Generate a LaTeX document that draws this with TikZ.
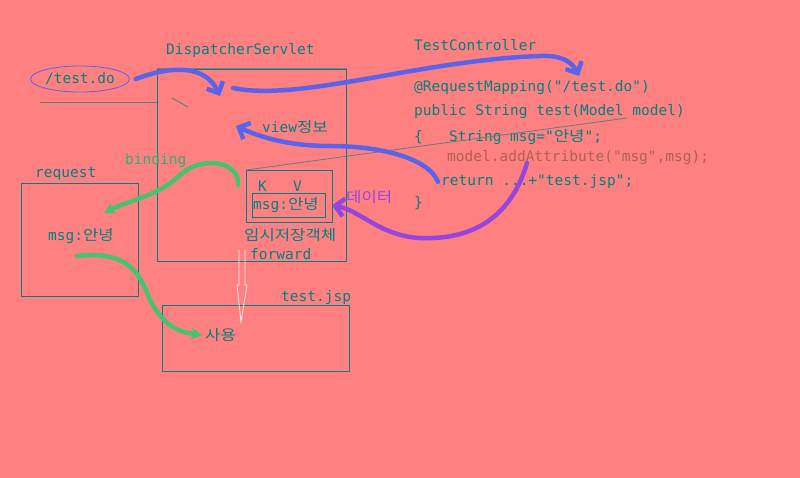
\documentclass[tikz,border=0pt]{standalone}
\usepackage{fontspec}
\newfontfamily\mono{DejaVu Sans Mono}
\newfontfamily\kr[FakeStretch=1.15]{Noto Sans CJK KR}
\usepackage{tikz}
\usetikzlibrary{arrows.meta}
\usetikzlibrary{shapes.geometric}
\usetikzlibrary{positioning}
\definecolor{salmon}{RGB}{255,128,128}
\definecolor{tealink}{RGB}{0,128,128}
\definecolor{pen}{RGB}{90,100,235}
\definecolor{marker}{RGB}{70,195,110}
\definecolor{violet}{RGB}{150,70,220}
\definecolor{rust}{RGB}{170,100,80}
\definecolor{rule}{RGB}{90,130,120}

\begin{document}
\begin{tikzpicture}[x=1pt, y=-1pt,
        txt/.style={anchor=west, inner sep=0pt, text=tealink, font=\mono\fontsize{14.5}{16}\selectfont},
        box/.style={draw=tealink, line width=1pt, inner sep=0pt, anchor=north west},
        stroke/.style={line width=4.5pt, line cap=round, line join=round},
        barb/.style={-{Straight Barb[length=9pt, width=18pt]}},
        wedge/.style={-{Stealth[length=11pt, width=12pt]}}]
            % Background
            \fill[salmon] (0,0) rectangle (800,478);
            \useasboundingbox (0,0) rectangle (800,478);
            % Boxes
            \node[box, minimum width=189pt, minimum height=192pt] (servlet) at (157,69) {};
            \draw[gray, line width=1pt] (servlet.north west) -- (servlet.north east);
            \node[box, minimum width=86pt,  minimum height=52pt]  (store)   at (246,170) {};
            \node[box, minimum width=73pt,  minimum height=24pt]  (pair)    at (252,193) {};
            \node[box, minimum width=117pt, minimum height=113pt] (request) at (21,183)  {};
            \node[box, minimum width=187pt, minimum height=66pt]  (jsp)     at (162,305) {};
            % Labels
            \node[txt] (servletname) at (166,50)  {DispatcherServlet};
            \node[txt] (ctrlname)    at (414,45)  {TestController};
            \node[txt] (reqname)     at (35,174)  {request};
            \node[txt] (jspname)     at (281,297) {test.jsp};
            \node[draw=pen, line width=0.8pt, ellipse, text=tealink, inner sep=0pt,
                  minimum width=78pt, minimum height=26pt,
                  font=\mono\fontsize{14.5}{16}\selectfont] (url) at (80,79) {/test.do};
            \draw[rule, line width=1pt] (40,103) -- (157,103);
            \draw[rule, line width=1pt] (172,98) -- (188,107);
            % Controller code
            \node[txt] (mapping) at (414,88)  {@RequestMapping("/test.do")};
            \node[txt] (method)  at (414,112) {public String test(Model model)};
            \node[txt] (msgline) at (414,137) {\{\ \ \ String msg="{\kr 안녕}";};
            \node[txt, text=rust] (attr) at (447,158) {model.addAttribute("msg",msg);};
            \node[txt] (ret)     at (441,182) {return ...+"test.jsp";};
            \node[txt] (close)   at (414,203) {\}};
            % Servlet contents
            \node[txt] (view)    at (262,127) {view{\kr 정보}};
            \node[txt] (key)     at (258,186) {K};
            \node[txt] (val)     at (293,186) {V};
            \node[txt] (entry)   at (253,205) {msg:{\kr 안녕}};
            \node[txt] (temp)    at (244,235) {\kr 임시저장객체};
            \node[txt] (fwd)     at (250,254) {forward};
            \node[txt, text=violet] (data) at (346,197) {\kr 데이터};
            \node[txt, text=marker!70!tealink] (bind) at (125,161) {binding};
            \node[txt] (reqmsg)  at (48,236)  {msg:{\kr 안녕}};
            \node[txt] (use)     at (205,335) {\kr 사용};
            % Thin pointer from store to code
            \draw[rule, line width=0.8pt] (store.north west) -- (627,118);
            % Forward arrow
            \draw[gray!15, line width=0.8pt] (239,250) -- (239,285) -- (237,285) -- (241,322)
                           -- (247,285) -- (245,285) -- (245,250);
            % Request in
            \coordinate (inhit) at (220,96);
            \draw[stroke, pen, barb] ([xshift=6pt]url.east) .. controls (170,66) and (205,64) .. (inhit);
            \coordinate (outhit) at (233,88);
            \coordinate (maptip) at (579,76);
            \draw[stroke, pen, barb] (outhit) .. controls (300,102) and (420,60) .. (540,56)
                                              .. controls (562,55) and (572,62) .. (maptip);
            % View name back
            \coordinate (viewtip) at (236,126);
            \draw[stroke, pen, barb] ([xshift=-3pt]ret.west) .. controls (430,160) and (385,146) .. (330,146)
                                             .. controls (290,146) and (262,138) .. (viewtip);
            % Model data
            \coordinate (attrpen) at (527,163);
            \draw[stroke, violet, barb] (attrpen) .. controls (510,220) and (470,240) .. (420,238)
                                                  .. controls (380,236) and (360,210) .. ([xshift=6pt]pair.east);
            % Binding
            \coordinate (bindfrom) at (238,185);
            \coordinate (bindtip)  at (104,213);
            \draw[stroke, marker, wedge] (bindfrom) .. controls (240,160) and (200,156) .. (180,175)
                                                    .. controls (160,195) and (130,200) .. (bindtip);
            \coordinate (usefrom) at (77,256);
            \draw[stroke, marker, wedge] (usefrom) .. controls (130,250) and (140,275) .. (150,300)
                                                   .. controls (165,328) and (180,332) .. ([xshift=-3pt]use.west);
        \end{tikzpicture}
\end{document}
